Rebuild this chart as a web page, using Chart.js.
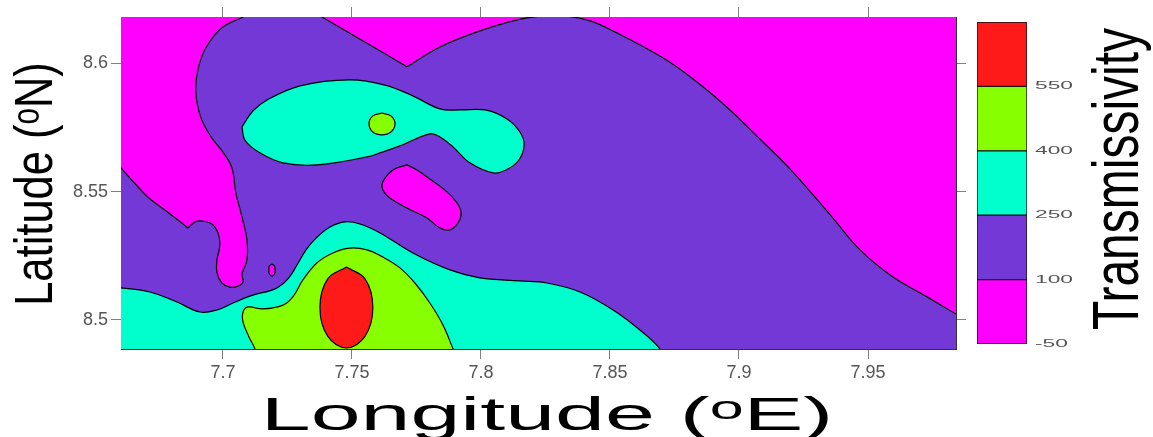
<!DOCTYPE html>
<html><head><meta charset="utf-8">
<script src="https://cdn.jsdelivr.net/npm/chart.js@4.4.1/dist/chart.umd.min.js"></script>
<style>
html,body{margin:0;padding:0;background:#fff;}
#wrap{position:relative;width:1153px;height:437px;overflow:hidden;background:#fff;}
#main{position:absolute;left:0;top:0;}
#cbar{position:absolute;left:960px;top:0;}
</style></head><body>
<div id="wrap">
<canvas id="main" width="1153" height="437"></canvas>
<canvas id="cbar" width="193" height="437"></canvas>
</div>
<script>
// ---- axes ----
const xRange = [7.6605, 7.9841];
const yRange = [8.4887, 8.6180];
const xTicks = [7.7, 7.75, 7.8, 7.85, 7.9, 7.95];
const xTickLabels = ['7.7', '7.75', '7.8', '7.85', '7.9', '7.95'];
const yTicks = [8.5, 8.55, 8.6];
const yTickLabels = ['8.5', '8.55', '8.6'];

// ---- contour levels (colour bar) ----
const levels = [-50, 100, 250, 400, 550, 700];
const levelLabels = ['-50', '100', '250', '400', '550'];
const levelColors = ['#FF00FF', '#7438D6', '#00FFCC', '#88FF00', '#FF1A1A'];

// ---- contour boundaries (longitude / latitude) ----
// 100-250 band (everything outside the outer magenta area)
const purpleLon = [7.6562,7.6605,7.6647,7.6709,7.6775,7.6841,7.6864,7.6864,7.6892,7.6915,7.6957,7.6981,7.6988,7.6977,7.6977,7.6996,7.7027,7.7058,7.7078,7.7074,7.7093,7.7093,7.7074,7.7050,7.7035,7.7000,7.6957,7.6915,7.6895,7.6903,7.6934,7.6996,7.7078,7.7151,7.7318,7.7384,7.7550,7.7713,7.7713,7.7841,7.7985,7.8140,7.8240,7.8326,7.8423,7.8519,7.8705,7.8837,7.8965,7.9093,7.9209,7.9364,7.9469,7.9597,7.9729,7.9841,7.9915,7.9915,7.6523,7.6523];
const purpleLat = [8.5639,8.5592,8.5545,8.5479,8.5428,8.5378,8.5358,8.5358,8.5382,8.5386,8.5374,8.5339,8.5292,8.5234,8.5183,8.5144,8.5128,8.5132,8.5148,8.5179,8.5234,8.5312,8.5401,8.5495,8.5592,8.5654,8.5709,8.5787,8.5888,8.5974,8.6060,8.6138,8.6180,8.6219,8.6219,8.6180,8.6083,8.5986,8.5986,8.6063,8.6122,8.6169,8.6184,8.6184,8.6165,8.6122,8.6021,8.5927,8.5818,8.5693,8.5576,8.5397,8.5273,8.5167,8.5090,8.5023,8.4980,8.4825,8.4825,8.5682];
// elongated low island
const islandLon = [7.7713,7.7752,7.7802,7.7868,7.7907,7.7923,7.7911,7.7880,7.7841,7.7791,7.7713,7.7647,7.7620,7.7620,7.7659];
const islandLat = [8.5604,8.5584,8.5549,8.5499,8.5456,8.5417,8.5378,8.5351,8.5358,8.5397,8.5436,8.5475,8.5506,8.5538,8.5584];
// tiny low spot
const spotLon = [7.7190,7.7200,7.7202,7.7200,7.7190,7.7180,7.7178,7.7180];
const spotLat = [8.5218,8.5210,8.5195,8.5179,8.5171,8.5179,8.5195,8.5210];
// upper 250-400 lobe
const cyanUpLon = [7.7074,7.7116,7.7171,7.7299,7.7492,7.7628,7.7736,7.7841,7.7919,7.8016,7.8101,7.8151,7.8167,7.8147,7.8097,7.8047,7.7957,7.7892,7.7841,7.7802,7.7686,7.7609,7.7558,7.7364,7.7233,7.7143,7.7085];
const cyanUpLat = [8.5752,8.5814,8.5857,8.5912,8.5935,8.5915,8.5873,8.5822,8.5818,8.5818,8.5783,8.5732,8.5682,8.5623,8.5584,8.5573,8.5612,8.5674,8.5713,8.5725,8.5678,8.5651,8.5635,8.5604,8.5612,8.5651,8.5701];
// lower 250-400 band
const cyanLowLon = [7.6523,7.6605,7.6717,7.6822,7.6911,7.6977,7.7039,7.7116,7.7202,7.7252,7.7287,7.7322,7.7361,7.7415,7.7473,7.7531,7.7609,7.7736,7.7880,7.7996,7.8151,7.8256,7.8384,7.8512,7.8616,7.8694,7.8725,7.6523];
const cyanLowLat = [8.5128,8.5125,8.5109,8.5070,8.5031,8.5039,8.5066,8.5097,8.5121,8.5160,8.5214,8.5273,8.5319,8.5362,8.5382,8.5374,8.5339,8.5261,8.5195,8.5164,8.5152,8.5144,8.5109,8.5039,8.4961,8.4887,8.4825,8.4825];
// 400-550 band
const greenLon = [7.7136,7.7124,7.7101,7.7078,7.7078,7.7097,7.7155,7.7233,7.7271,7.7310,7.7364,7.7426,7.7492,7.7558,7.7620,7.7686,7.7744,7.7802,7.7853,7.7892,7.7919];
const greenLat = [8.4825,8.4887,8.4934,8.4992,8.5031,8.5051,8.5043,8.5058,8.5090,8.5156,8.5222,8.5261,8.5280,8.5273,8.5245,8.5203,8.5144,8.5066,8.4980,8.4887,8.4825];
// small 400-550 spot
const greenSpotLon = [7.7616,7.7651,7.7667,7.7651,7.7616,7.7581,7.7566,7.7581];
const greenSpotLat = [8.5806,8.5795,8.5764,8.5732,8.5721,8.5732,8.5764,8.5795];
// > 550 core
const redLon = [7.7479,7.7551,7.7581,7.7551,7.7479,7.7406,7.7376,7.7406];
const redLat = [8.5206,8.5160,8.5049,8.4937,8.4891,8.4937,8.5049,8.5160];

const zip = (lon, lat, closed) => {
  const pts = lon.map((x, i) => ({x: x, y: lat[i]}));
  if (closed) pts.push({x: lon[0], y: lat[0]});
  return pts;
};

const layers = [
  {lon: purpleLon, lat: purpleLat, color: levelColors[1], closed: false},
  {lon: islandLon, lat: islandLat, color: levelColors[0], closed: true},
  {lon: spotLon, lat: spotLat, color: levelColors[0], closed: true},
  {lon: cyanUpLon, lat: cyanUpLat, color: levelColors[2], closed: true},
  {lon: cyanLowLon, lat: cyanLowLat, color: levelColors[2], closed: false},
  {lon: greenLon, lat: greenLat, color: levelColors[3], closed: false},
  {lon: greenSpotLon, lat: greenSpotLat, color: levelColors[3], closed: true},
  {lon: redLon, lat: redLat, color: levelColors[4], closed: true}
];

const FONT = "'Liberation Sans', Arial, 'DejaVu Sans', sans-serif";

const plotBg = {
  id: 'plotBg',
  beforeDatasetsDraw(chart) {
    const {ctx, chartArea: a} = chart;
    ctx.save();
    ctx.fillStyle = levelColors[0];
    ctx.fillRect(a.left, a.top, a.right - a.left, a.bottom - a.top);
    ctx.restore();
  }
};

const stretchTitles = {
  id: 'stretchTitles',
  afterDraw(chart, args, opts) {
    const ctx = chart.ctx;
    for (const t of opts.items) {
      ctx.save();
      ctx.fillStyle = '#000';
      ctx.font = t.size + 'px ' + FONT;
      ctx.textAlign = 'center';
      ctx.textBaseline = 'alphabetic';
      ctx.translate(t.x, t.y);
      ctx.scale(t.sx, 1);
      if (t.vertical) ctx.rotate(-Math.PI / 2);
      ctx.fillText(t.text, 0, 0);
      ctx.restore();
    }
  }
};

function axis(pos, range, ticks, labels, showLabels, fitSize) {
  const horiz = (pos === 'top' || pos === 'bottom');
  return {
    type: 'linear',
    position: pos,
    min: range[0],
    max: range[1],
    z: 1,
    afterBuildTicks: s => { s.ticks = ticks.map(v => ({value: v})); },
    afterFit: s => { if (horiz) s.height = fitSize; else s.width = fitSize; },
    ticks: {
      display: showLabels,
      autoSkip: false,
      maxRotation: 0,
      padding: 3,
      color: '#555',
      font: {family: FONT, size: 18},
      callback: (v, i) => labels[i]
    },
    grid: {drawOnChartArea: false, drawTicks: true, tickLength: 10, color: '#808080', lineWidth: 1},
    border: {display: true, color: '#333', width: 1}
  };
}

new Chart(document.getElementById('main'), {
  type: 'line',
  data: {
    datasets: layers.map((L, i) => ({
      data: zip(L.lon, L.lat, L.closed),
      xAxisID: 'x',
      yAxisID: 'y',
      backgroundColor: L.color,
      borderColor: '#000',
      borderWidth: 1.2,
      fill: 'shape',
      pointRadius: 0,
      pointHoverRadius: 0,
      tension: 0.38,
      capBezierPoints: false,
      order: layers.length - i
    }))
  },
  options: {
    responsive: false,
    animation: false,
    events: [],
    layout: {padding: 0},
    plugins: {
      legend: {display: false},
      tooltip: {enabled: false},
      stretchTitles: {
        items: [
          {text: 'Longitude (ᵒE)', x: 547, y: 430, size: 46, sx: 1.95, vertical: false},
          {text: 'Latitude (ᵒN)', x: 52, y: 184, size: 43.5, sx: 1.24, vertical: true},
          {text: 'Transmissivity', x: 1138, y: 179, size: 48, sx: 1.35, vertical: true}
        ]
      }
    },
    scales: {
      x: axis('bottom', xRange, xTicks, xTickLabels, true, 88),
      x2: axis('top', xRange, xTicks, xTickLabels, false, 17),
      y: axis('left', yRange, yTicks, yTickLabels, true, 121),
      y2: axis('right', yRange, yTicks, yTickLabels, false, 197)
    }
  },
  plugins: [plotBg, stretchTitles]
});

// ---- colour bar ----
const cbLabels = {
  id: 'cbLabels',
  afterDraw(chart) {
    const ctx = chart.ctx;
    const s = chart.scales.y;
    levelLabels.forEach((lab, i) => {
      const py = s.getPixelForValue(levels[i]);
      ctx.save();
      ctx.fillStyle = '#555';
      ctx.font = '11px ' + FONT;
      ctx.textAlign = 'left';
      ctx.textBaseline = 'middle';
      ctx.translate(75, py);
      ctx.scale(2.07, 1);
      ctx.fillText(lab, 0, 0);
      ctx.restore();
    });
  }
};

new Chart(document.getElementById('cbar'), {
  type: 'bar',
  data: {
    labels: [''],
    datasets: levelColors.map((c, i) => ({
      data: [[levels[i], levels[i + 1]]],
      backgroundColor: c,
      borderColor: '#111',
      borderWidth: 1,
      borderSkipped: false,
      grouped: false,
      barPercentage: 1,
      categoryPercentage: 1
    }))
  },
  options: {
    responsive: false,
    animation: false,
    events: [],
    layout: {padding: {left: 17, right: 126, top: 22, bottom: 93}},
    plugins: {legend: {display: false}, tooltip: {enabled: false}},
    scales: {
      x: {display: false},
      y: {display: false, min: levels[0], max: levels[levels.length - 1]}
    }
  },
  plugins: [cbLabels]
});
</script>
</body></html>
